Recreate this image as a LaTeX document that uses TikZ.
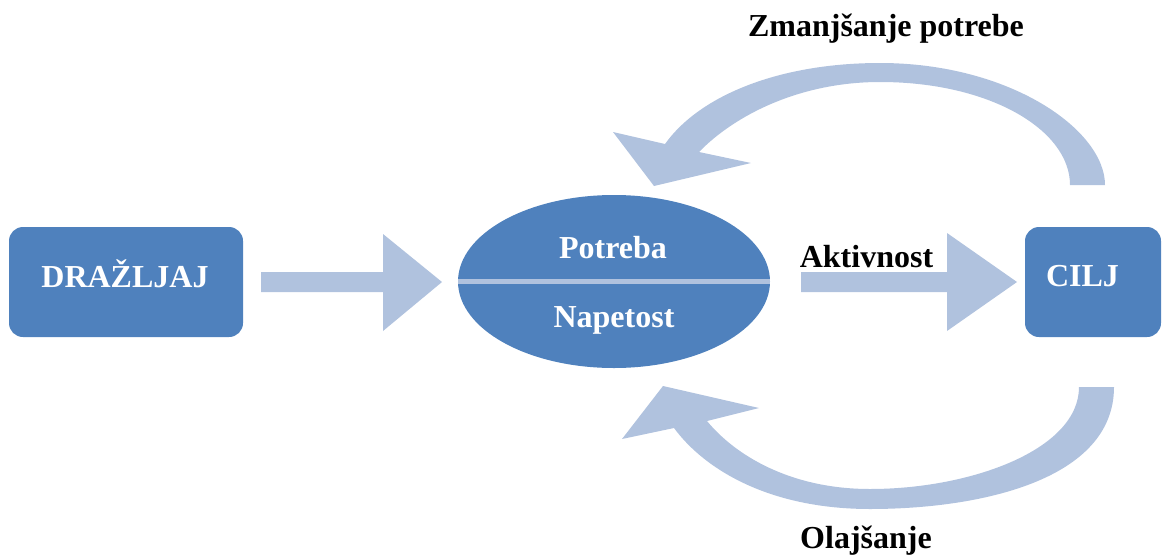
\documentclass[tikz,border=0pt]{standalone}
\usepackage{fontspec}
\setmainfont{Liberation Serif}
\usetikzlibrary{shapes.geometric}
\definecolor{boxblue}{HTML}{4F81BD}
\definecolor{lightblue}{HTML}{B0C2DE}
\begin{document}
\begin{tikzpicture}[x=1pt,y=-1pt,
  blockbox/.style={fill=boxblue, rounded corners=14pt, inner sep=0pt},
  boxtext/.style={font=\fontsize{32}{38}\selectfont\bfseries, text=white, anchor=base, inner sep=0pt},
  labeltext/.style={font=\fontsize{32}{38}\selectfont\bfseries, text=black, anchor=base, inner sep=0pt},
  flow/.style={fill=lightblue}]
\useasboundingbox (0,0) rectangle (1162,555);

% block arrows
\fill[flow] (261,272) -- (383,272) -- (383,234) -- (442,282) -- (383,331) -- (383,292) -- (261,292) -- cycle;
\fill[flow] (801,272) -- (947,272) -- (947,233) -- (1017,282) -- (947,331) -- (947,292) -- (801,292) -- cycle;

% curved arrows
\fill[flow] (1105,185) .. controls (1105,130) and (1010,63) .. (880,63)
  .. controls (780,63) and (700,95) .. (665,144)
  -- (613,132) -- (654,186) -- (751,163) -- (699,152)
  .. controls (735,115) and (800,82) .. (880,82)
  .. controls (990,82) and (1070,130) .. (1070,185) -- cycle;
\fill[flow] (1114,387) .. controls (1114,480) and (980,509) .. (870,509)
  .. controls (770,509) and (705,470) .. (674,428)
  -- (622,439) -- (663,386) -- (759,408) -- (707,421)
  .. controls (735,455) and (790,489) .. (870,489)
  .. controls (970,489) and (1079,450) .. (1079,387) -- cycle;

% boxes
\node[blockbox, minimum width=234pt, minimum height=110pt] (dra) at (126,282) {};
\node[blockbox, minimum width=136pt, minimum height=110pt] (cilj) at (1093,282) {};
\node[ellipse, fill=boxblue, minimum width=312pt, minimum height=173pt, inner sep=0pt] (need) at (614,281.5) {};
\draw[lightblue, line width=5pt] (need.west) -- (need.east);

% texts
\node[boxtext] (dratext) at (125,287) {DRAŽLJAJ};
\node[boxtext] (ciljtext) at (1082.5,286) {CILJ};
\node[boxtext] (potreba) at (613,258) {Potreba};
\node[boxtext] (napetost) at (614,327) {Napetost};
\node[labeltext] (aktivnost) at (866.5,267) {Aktivnost};
\node[labeltext] (zman) at (886,36) {Zmanjšanje potrebe};
\node[labeltext] (olaj) at (866,548) {Olajšanje};
\end{tikzpicture}
\end{document}
